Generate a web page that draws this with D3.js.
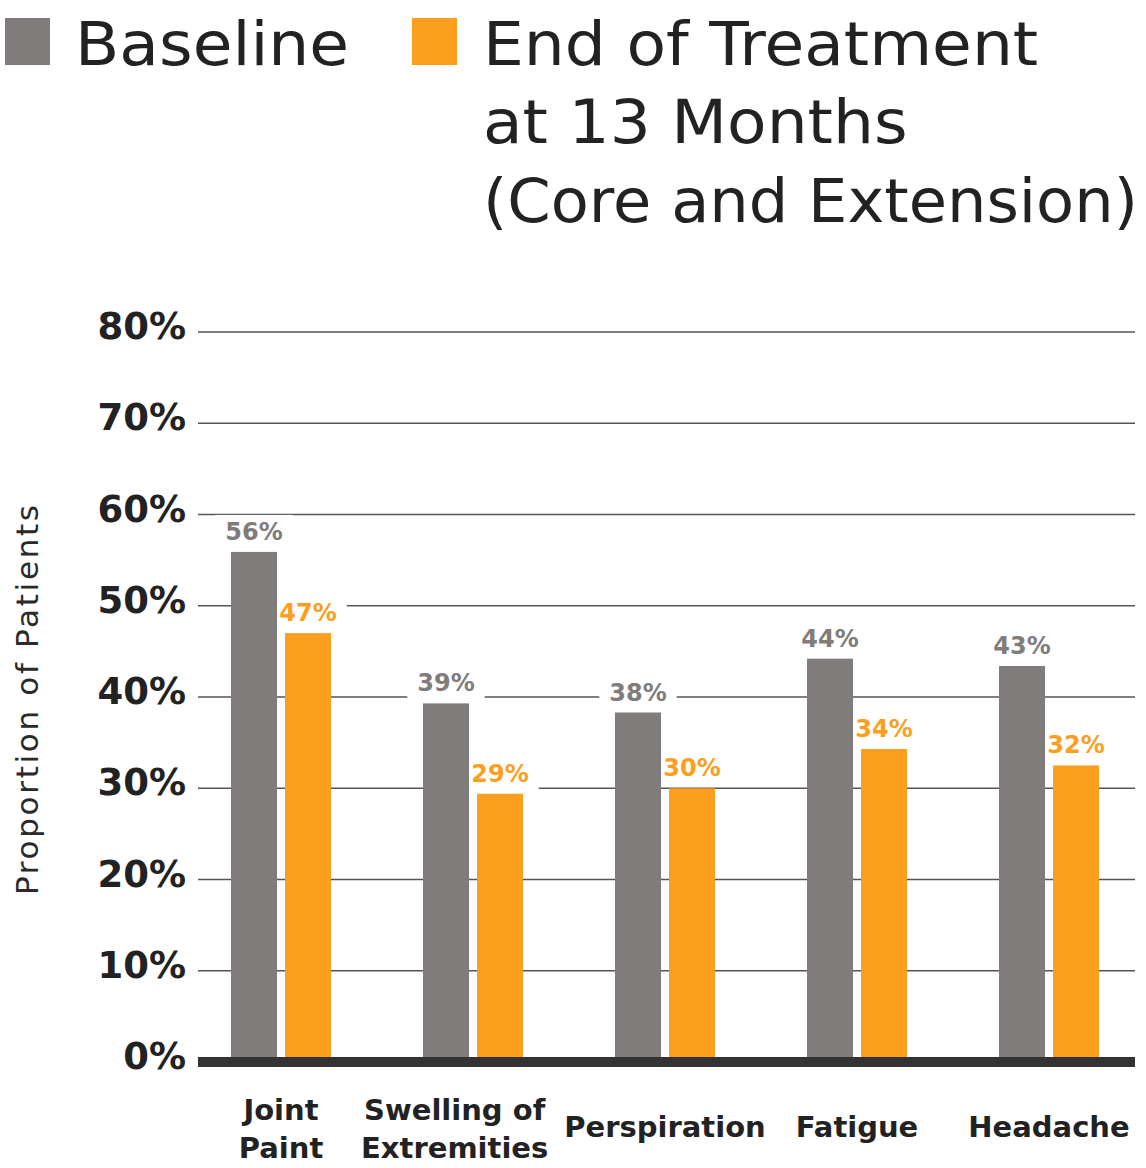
<!DOCTYPE html>
<html>
<head>
<meta charset="utf-8">
<script src="https://cdn.jsdelivr.net/npm/d3@7"></script>
<style>
  html, body { margin: 0; padding: 0; background: #fff; }
  svg { display: block; }
</style>
</head>
<body>
<script>
// ---- data ----
const categories = [["Joint", "Paint"], ["Swelling of", "Extremities"], ["Perspiration"], ["Fatigue"], ["Headache"]];
const categoryKeys = ["Joint Paint", "Swelling of Extremities", "Perspiration", "Fatigue", "Headache"];
const seriesNames = ["Baseline", "End of Treatment at 13 Months (Core and Extension)"];
const baselineValues = [55.9, 39.3, 38.3, 44.2, 43.4];
const endValues = [47.0, 29.4, 30.0, 34.3, 32.5];
const baselineLabels = ["56%", "39%", "38%", "44%", "43%"];
const endLabels = ["47%", "29%", "30%", "34%", "32%"];
const yTicks = [0, 10, 20, 30, 40, 50, 60, 70, 80];
const legendLines = [["Baseline"], ["End of Treatment", "at 13 Months", "(Core and Extension)"]];

const W = 1146, H = 1168;
const colors = ["#807c7b", "#fd9f1e"];
const textDark = "#222222";
const fontReg = "'DejaVu Sans', sans-serif";

const svg = d3.select("body").append("svg").attr("width", W).attr("height", H);

const y = d3.scaleLinear().domain([0, 80]).range([1062, 332]);
const x = d3.scaleBand().domain(categoryKeys).range([185, 1145]).paddingInner(0).paddingOuter(0);
const xs = d3.scaleBand().domain([0, 1]).range([-50, 50]).paddingInner(8 / 54).paddingOuter(0);

const gridX0 = 198, gridX1 = 1135;

// gridlines
svg.append("g").selectAll("line").data(yTicks.filter(d => d > 0)).join("line")
  .attr("x1", gridX0).attr("x2", gridX1)
  .attr("y1", d => y(d)).attr("y2", d => y(d))
  .attr("stroke", "#555").attr("stroke-width", 1.4);

// y tick labels
svg.append("g").selectAll("text").data(yTicks).join("text")
  .attr("x", 186).attr("y", d => y(d) + 7)
  .attr("text-anchor", "end")
  .attr("font-family", fontReg).attr("font-weight", "bold").attr("font-size", 37)
  .attr("fill", textDark)
  .text(d => d + "%");

// y axis title
svg.append("text")
  .attr("transform", `translate(38, 700) rotate(-90)`)
  .attr("text-anchor", "middle")
  .attr("font-family", fontReg).attr("font-size", 31)
  .attr("fill", "#2a2a2a")
  .attr("textLength", 390).attr("lengthAdjust", "spacing")
  .text("Proportion of Patients");

const series = [baselineValues, endValues];
const labels = [baselineLabels, endLabels];
const bgG = svg.append("g");   // label backgrounds (below bars)
const barG = svg.append("g");
const labG = svg.append("g");

// bars
series.forEach((vals, si) => {
  barG.selectAll(null).data(vals).join("rect")
    .attr("x", (d, i) => x(categoryKeys[i]) + x.bandwidth() / 2 + xs(si))
    .attr("width", xs.bandwidth())
    .attr("y", d => y(d))
    .attr("height", d => y(0) - y(d))
    .attr("fill", colors[si]);
});

// value labels with white background (background drawn under bars)
series.forEach((vals, si) => {
  vals.forEach((v, i) => {
    const cx = x(categoryKeys[i]) + x.bandwidth() / 2 + xs(si) + xs.bandwidth() / 2;
    const t = labG.append("text")
      .attr("x", cx).attr("y", y(v) - 12)
      .attr("text-anchor", "middle")
      .attr("font-family", fontReg).attr("font-weight", "bold").attr("font-size", 24)
      .attr("fill", colors[si])
      .text(labels[si][i]);
    const bb = t.node().getBBox();
    bgG.append("rect")
      .attr("x", bb.x - 10).attr("y", bb.y - 3)
      .attr("width", bb.width + 20).attr("height", bb.height + 6)
      .attr("fill", "#fff");
  });
});

// baseline thick axis
svg.append("line")
  .attr("x1", gridX0).attr("x2", gridX1)
  .attr("y1", y(0)).attr("y2", y(0))
  .attr("stroke", "#333").attr("stroke-width", 10);

// x category labels
const xl = svg.append("g");
const xLabelNodes = [];
categories.forEach((lines, i) => {
  const cx = x(categoryKeys[i]) + x.bandwidth() / 2;
  const t = xl.append("text")
    .attr("text-anchor", "middle")
    .attr("font-family", fontReg).attr("font-weight", "bold").attr("font-size", 29)
    .attr("fill", textDark);
  const startY = lines.length === 1 ? 1137 : 1120;
  lines.forEach((ln, k) => {
    t.append("tspan").attr("x", cx).attr("y", startY + k * 38).text(ln);
  });
  xLabelNodes.push(t);
});
// push labels apart if they collide (shift left, right to left)
for (let i = xLabelNodes.length - 2; i >= 0; i--) {
  const a = xLabelNodes[i].node().getBBox();
  const b = xLabelNodes[i + 1].node().getBBox();
  const overlap = (a.x + a.width) - (b.x - 16);
  if (overlap > 0) {
    xLabelNodes[i].attr("transform", `translate(${-overlap},0)`);
  }
}

// legend
const legendPos = [{sx: 5, tx: 75}, {sx: 412, tx: 483}];
const maxRight = W - 8;
legendLines.forEach((lines, si) => {
  svg.append("rect")
    .attr("x", legendPos[si].sx).attr("y", 18)
    .attr("width", 45).attr("height", 47)
    .attr("fill", colors[si]);
  lines.forEach((ln, k) => {
    const t = svg.append("text")
      .attr("font-family", fontReg).attr("font-size", 61)
      .attr("fill", textDark)
      .attr("x", 0).attr("y", 65 + k * 78.5)
      .text(ln);
    const w = t.node().getComputedTextLength();
    const sc = Math.min(1.06, (maxRight - legendPos[si].tx) / w);
    t.attr("transform", `translate(${legendPos[si].tx},0) scale(${sc},1)`);
  });
});
</script>
</body>
</html>
